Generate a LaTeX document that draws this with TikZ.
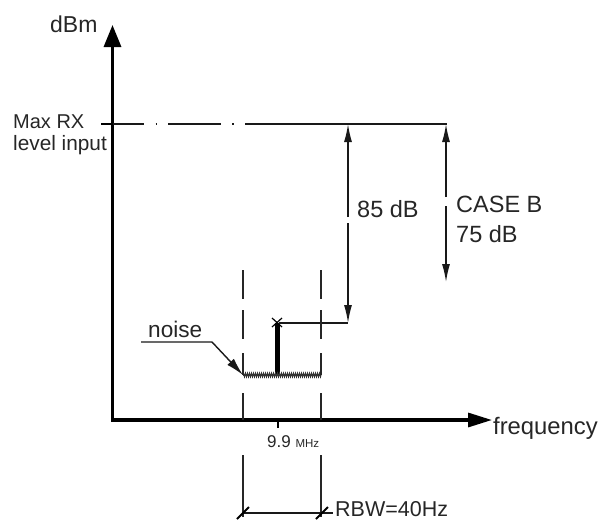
\documentclass[tikz,border=0pt]{standalone}
\usepackage{fontspec}
\setmainfont{Liberation Sans}
\usetikzlibrary{arrows.meta,decorations.pathmorphing}
\begin{document}
\begin{tikzpicture}[x=1pt,y=-1pt,
  lbl/.style={inner sep=0pt,text=black!85,font=\fontsize{23}{27}\selectfont},
  smalllbl/.style={inner sep=0pt,text=black!85,font=\fontsize{20}{24}\selectfont},
  axisline/.style={line width=3.2pt,line join=miter},
  thinline/.style={line width=1.4pt,black!90},
  dashline/.style={line width=1.6pt,black!85},
  dimtip/.style={-{Latex[length=18pt,width=8pt]}},
]
\useasboundingbox (0,0) rectangle (602,522);

% axes
\coordinate (O) at (112.5,420);
\coordinate (Ytip) at (112.5,25);
\coordinate (Xtip) at (492,420);
\draw[axisline,{Triangle[length=22pt,width=17pt]}-{Triangle[length=24pt,width=14pt]}] (Ytip) -- (O) -- (Xtip);

% labels of axes
\node[lbl,anchor=base west] (dbm) at (50,32) {dBm};
\node[lbl,anchor=base west,font=\fontsize{23.8}{27}\selectfont] (freq) at (493,434) {frequency};
\node[smalllbl,anchor=base west] (maxrx) at (13,128) {Max RX};
\node[smalllbl,anchor=base west,font=\fontsize{20.8}{24}\selectfont] (lvl) at (13,150) {level input};

% Max RX level line
\coordinate (mxL) at (101,124);
\coordinate (mxA) at (112.5,124);
\coordinate (mxB) at (245,124);
\coordinate (mx85) at (348,124);
\coordinate (mxCB) at (447,124);
\draw[line width=2.2pt] (mxL) -- (mxA);
\draw[thinline,dash pattern=on 31pt off 12pt on 1.5pt off 11pt on 53pt off 11pt on 1.5pt off 12pt] (mxA) -- (mxB);
\draw[thinline] (mxB) -- (mxCB);

% 85 dB dimension
\coordinate (d85bot) at (348,323);
\coordinate (d85g1) at (348,217);
\coordinate (d85g2) at (348,223);
\draw[thinline,dimtip] (d85g1) -- (mx85);
\draw[thinline,dimtip] (d85g2) -- (d85bot);
\node[lbl,anchor=base west,font=\fontsize{23.5}{27}\selectfont] (l85) at (357,217) {85 dB};

% CASE B dimension
\coordinate (cbbot) at (446,282);
\coordinate (cbg1) at (446,197);
\coordinate (cbg2) at (446,206);
\draw[thinline,dimtip] (cbg1) -- (446,124);
\draw[thinline,dimtip] (cbg2) -- (cbbot);
\node[lbl,anchor=base west,font=\fontsize{23.5}{27}\selectfont] (lcb) at (456,212) {CASE B};
\node[lbl,anchor=base west,font=\fontsize{23.5}{27}\selectfont] (l75) at (456,242) {75 dB};

% spike
\coordinate (spB) at (277,375);
\coordinate (spT) at (277,323);
\draw[line width=5pt] (spB) -- (spT);
\draw[line width=1.2pt] (272,318) -- (282,327) (282,318) -- (272,327);
\draw[thinline] (279,323) -- (d85bot);

% noise floor
\coordinate (nL) at (243,375);
\coordinate (nR) at (321,375);
\draw[line width=1.8pt,black!80] (nL) -- (nR);
\draw[line width=1pt,black!80,decorate,decoration={zigzag,segment length=2pt,amplitude=1.8pt}] (nL) -- (nR);

% dashed verticals
\foreach \xx in {243,321}{
  \draw[dashline,dash pattern=on 29pt off 11pt on 29pt off 14pt on 22pt off 18pt on 27pt off 100pt] (\xx,270) -- (\xx,420);
  \draw[dashline] (\xx,455) -- (\xx,517);
}

% tick at 9.9 MHz
\coordinate (tk) at (278,428);
\draw[line width=2.8pt] (278,420) -- (tk);
\node[inner sep=0pt,anchor=base west,text=black!85] (l99) at (267,447) {\fontsize{17}{20}\selectfont 9.9 \fontsize{11.5}{14}\selectfont MHz};

% RBW dimension
\coordinate (rbL) at (243,513);
\coordinate (rbR) at (333,513);
\draw[thinline] (rbL) -- (rbR);
\draw[line width=1.8pt] (237,519) -- (249,507) (316,519) -- (328,507);
\node[lbl,anchor=base west,font=\fontsize{21.5}{25}\selectfont] (lrbw) at (335,516) {RBW=40Hz};

% noise label and leader
\node[lbl,anchor=base west,font=\fontsize{22.6}{27}\selectfont] (lnoise) at (148,337) {noise};
\coordinate (nlA) at (141,342);
\coordinate (nlB) at (212,342);
\draw[thinline,-{Latex[length=18pt,width=9pt]}] (nlA) -- (nlB) -- (nL);
\end{tikzpicture}
\end{document}
